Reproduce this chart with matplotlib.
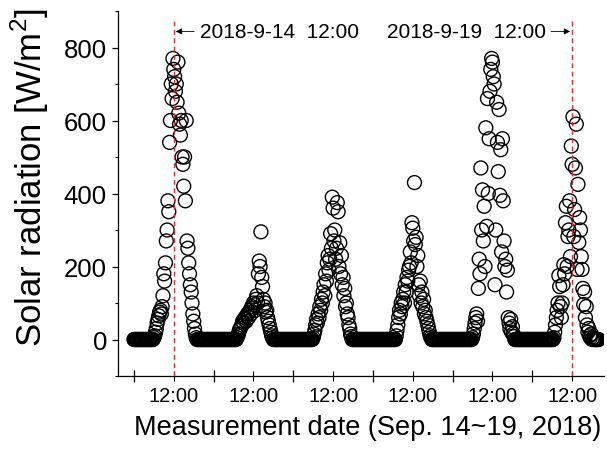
import numpy as np
import matplotlib
matplotlib.use("Agg")
import matplotlib.pyplot as plt
from matplotlib.ticker import MultipleLocator, FixedLocator, NullFormatter, FixedFormatter

plt.rcParams['font.family'] = ['Liberation Sans', 'DejaVu Sans']
plt.rcParams['mathtext.fontset'] = 'custom'
plt.rcParams['mathtext.rm'] = 'Liberation Sans'

# 15-minute samples, one row per hour (00:00 ... 23:45)
sep14 = [
    0, 0, 0, 0,  0, 0, 0, 0,  0, 0, 0, 0,  0, 0, 0, 0,  0, 0, 0, 0,  0, 0, 0, 0,
    5, 10, 20, 30,
    45, 55, 65, 75,
    80, 70, 90, 120,
    180, 160, 210, 270,
    300, 380, 350, 540,
    600, 700, 660, 770,
    740, 720, 680, 700,
    650, 760, 620, 590,
    560, 600, 500, 480,
    420, 500, 380, 600,
    270, 250, 210, 180,
    150, 130, 100, 70,
    50, 30, 15, 5,
    0, 0, 0, 0,  0, 0, 0, 0,  0, 0, 0, 0,  0, 0, 0, 0,  0, 0, 0, 0,
]
sep15 = [
    0, 0, 0, 0,  0, 0, 0, 0,  0, 0, 0, 0,  0, 0, 0, 0,  0, 0, 0, 0,  0, 0, 0, 0,
    0, 0, 0, 0,
    5, 10, 15, 25,
    30, 35, 40, 50,
    45, 55, 60, 50,
    65, 70, 60, 75,
    80, 70, 90, 85,
    100, 95, 80, 110,
    120, 100, 180, 215,
    200, 295, 170, 145,
    110, 90, 100, 75,
    80, 60, 50, 40,
    30, 20, 10, 5,
    0, 0, 0, 0,  0, 0, 0, 0,  0, 0, 0, 0,  0, 0, 0, 0,  0, 0, 0, 0,  0, 0, 0, 0,
]
sep16 = [
    0, 0, 0, 0,  0, 0, 0, 0,  0, 0, 0, 0,  0, 0, 0, 0,  0, 0, 0, 0,  0, 0, 0, 0,
    5, 15, 25, 40,
    55, 45, 70, 60,
    90, 80, 110, 100,
    130, 150, 120, 180,
    160, 210, 230, 190,
    220, 290, 250, 390,
    360, 270, 300, 220,
    250, 375, 350, 200,
    265, 180, 230, 150,
    170, 120, 140, 90,
    100, 70, 60, 40,
    30, 15, 8, 0,
    0, 0, 0, 0,  0, 0, 0, 0,  0, 0, 0, 0,  0, 0, 0, 0,  0, 0, 0, 0,  0, 0, 0, 0,
]
sep17 = [
    0, 0, 0, 0,  0, 0, 0, 0,  0, 0, 0, 0,  0, 0, 0, 0,  0, 0, 0, 0,  0, 0, 0, 0,
    0, 0, 0, 0,
    10, 25, 40, 60,
    80, 70, 100, 90,
    110, 130, 100, 150,
    130, 170, 160, 190,
    200, 240, 210, 320,
    305, 270, 430, 260,
    280, 200, 230, 150,
    120, 160, 100, 130,
    90, 110, 70, 80,
    60, 50, 40, 30,
    20, 10, 5, 0,
    0, 0, 0, 0,  0, 0, 0, 0,  0, 0, 0, 0,  0, 0, 0, 0,  0, 0, 0, 0,  0, 0, 0, 0,
]
sep18 = [
    0, 0, 0, 0,  0, 0, 0, 0,  0, 0, 0, 0,  0, 0, 0, 0,  0, 0, 0, 0,  0, 0, 0, 0,
    5, 15, 30, 45,
    60, 70, 50, 140,
    220, 180, 470, 300,
    410, 270, 365, 200,
    580, 310, 660, 400,
    550, 680, 740, 770,
    760, 720, 700, 150,
    300, 650, 540, 460,
    630, 395, 520, 240,
    550, 380, 270, 200,
    220, 130, 190, 60,
    45, 30, 55, 20,
    35, 15, 8, 0,
    0, 0, 0, 0,  0, 0, 0, 0,  0, 0, 0, 0,  0, 0, 0, 0,  0, 0, 0, 0,
]
sep19 = [
    0, 0, 0, 0,  0, 0, 0, 0,  0, 0, 0, 0,  0, 0, 0, 0,  0, 0, 0, 0,  0, 0, 0, 0,
    0, 0, 5, 20,
    40, 60, 80, 100,
    175, 145, 90, 60,
    100, 150, 205, 180,
    320, 365, 200, 282,
    300, 380, 227, 530,
    480, 610, 282, 356,
    470, 590, 192, 425,
    266, 334, 300, 227,
    192, 140, 96, 130,
    60, 90, 40, 20,
    30, 10, 5, 15,
    0, 5, 0, 0,
    0, 0, 0, 0,
    0,
]
sample_step_h = 0.25

marker_days = [12, 36, 60, 84, 108, 132]   # 12:00 of Sep 14..19 (hours from Sep 14 00:00)
midnights = [0, 24, 48, 72, 96, 120]
tick_labels = ["12:00"] * 6
event_times = [12, 132]
event_texts = ["2018-9-14  12:00", "2018-9-19  12:00"]

radiation = np.array(sep14 + sep15 + sep16 + sep17 + sep18 + sep19, dtype=float)
hours = np.arange(len(radiation)) * sample_step_h

fig = plt.figure(figsize=(6.07, 4.52), dpi=100)
ax = fig.add_axes([118 / 607, 75 / 452, 486 / 607, 365 / 452])

ax.scatter(hours, radiation, s=100, marker='o', facecolors='none',
           edgecolors='black', linewidths=1.0, zorder=2)

ax.vlines(event_times, -100, 882, colors='#cc3333', linestyles=(0, (3.5, 2.5)), linewidth=1.0, zorder=3)

ax.annotate(event_texts[0], xy=(event_times[0] + 0.6, 844), xytext=(19.8, 844),
            fontsize=15, ha='left', va='center',
            arrowprops=dict(arrowstyle='-|>', color='black', lw=0.6, mutation_scale=9,
                            shrinkA=2, shrinkB=0))
ax.annotate(event_texts[1], xy=(event_times[1] - 0.6, 844), xytext=(124.0, 844),
            fontsize=15, ha='right', va='center',
            arrowprops=dict(arrowstyle='-|>', color='black', lw=0.6, mutation_scale=9,
                            shrinkA=2, shrinkB=0))

ax.set_xlim(-4.8, 141.6)
ax.set_ylim(-100, 900)

ax.spines['top'].set_visible(False)
ax.spines['right'].set_visible(False)
for s in ('left', 'bottom'):
    ax.spines[s].set_linewidth(0.9)

ax.yaxis.set_major_locator(MultipleLocator(200))
ax.yaxis.set_minor_locator(MultipleLocator(100))
ax.tick_params(axis='y', which='major', direction='out', length=4, width=0.9,
               labelsize=18.5, pad=4)
ax.tick_params(axis='y', which='minor', direction='out', length=2.5, width=0.8)

ax.xaxis.set_major_locator(FixedLocator(marker_days))
ax.xaxis.set_major_formatter(FixedFormatter(tick_labels))
ax.xaxis.set_minor_locator(FixedLocator(midnights))
ax.xaxis.set_minor_formatter(NullFormatter())
ax.tick_params(axis='x', which='major', direction='inout', length=7, width=0.8,
               labelsize=14.5, pad=4)
ax.tick_params(axis='x', which='minor', direction='inout', length=9, width=0.9)

ax.set_ylabel('Solar radiation [W/m$^\\mathregular{2}$]', fontsize=25)
ax.yaxis.set_label_coords(-(118 - 51) / 486, 0.547)
ax.set_xlabel('Measurement date (Sep. 14~19, 2018)', fontsize=19.5)
ax.xaxis.set_label_coords(0.513, -0.104)

fig.savefig('out.png', dpi=100)
